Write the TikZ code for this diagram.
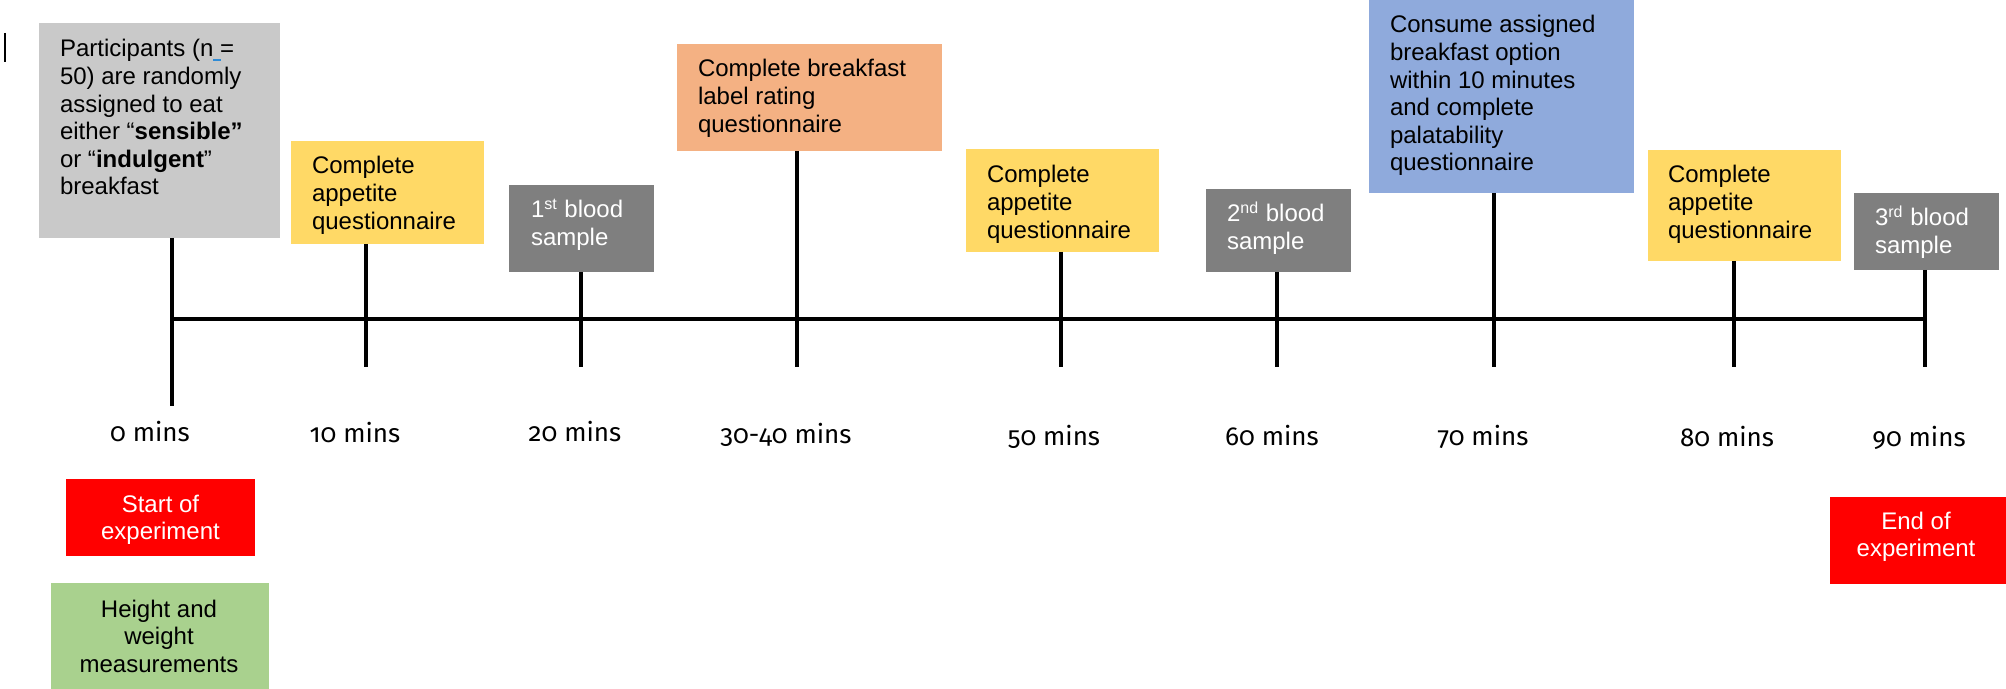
\documentclass[tikz,border=0pt]{standalone}
\usepackage{fontspec}
\setmainfont{Liberation Sans}
\newfontfamily\lblfont[Numbers=OldStyle]{Fira Sans}
\definecolor{cgray}{HTML}{C9C9C9}
\definecolor{cyel}{HTML}{FFD966}
\definecolor{corg}{HTML}{F4B183}
\definecolor{cblue}{HTML}{8FAADC}
\definecolor{cdark}{HTML}{7F7F7F}
\definecolor{cred}{HTML}{FF0000}
\definecolor{cgreen}{HTML}{A9D18E}
\definecolor{cul}{HTML}{2E8BD6}
\begin{document}
\begin{tikzpicture}[x=0.5pt,y=-0.5pt,
  box/.style={rectangle, draw=none, inner sep=0pt, outer sep=0pt, anchor=north west},
  txt/.style={inner sep=0pt, outer sep=0pt, font=\fontsize{12pt}{13.8pt}\selectfont},
  ltxt/.style={txt, anchor=base west},
  ctxt/.style={txt, anchor=base},
  tl/.style={line width=1.7pt, black},
  lbl/.style={inner sep=0pt, outer sep=0pt, anchor=base, font=\lblfont\fontsize{13pt}{15pt}\selectfont}]
\useasboundingbox (0,0) rectangle (2006,689);
\fill[white] (0,0) rectangle (2006,689);

% boxes
\node[box, fill=cgray, minimum width=120.5pt, minimum height=107.5pt] (g0) at (39,23) {};
\node[box, fill=cyel,  minimum width=96.5pt,  minimum height=51.5pt]  (y1) at (291,141) {};
\node[box, fill=cdark, minimum width=72.5pt,  minimum height=43.5pt]  (b1) at (509,185) {};
\node[box, fill=corg,  minimum width=132.5pt, minimum height=53.5pt]  (o1) at (677,44) {};
\node[box, fill=cyel,  minimum width=96.5pt,  minimum height=51.5pt]  (y2) at (966,149) {};
\node[box, fill=cdark, minimum width=72.5pt,  minimum height=41.5pt]  (b2) at (1206,189) {};
\node[box, fill=cblue, minimum width=132.5pt, minimum height=96.5pt]  (bl) at (1369,0) {};
\node[box, fill=cyel,  minimum width=96.5pt,  minimum height=55.5pt]  (y3) at (1648,150) {};
\node[box, fill=cdark, minimum width=72.5pt,  minimum height=38.5pt]  (b3) at (1854,193) {};
\node[box, fill=cred,  minimum width=94.5pt,  minimum height=38.5pt]  (st) at (66,479) {};
\node[box, fill=cgreen,minimum width=109pt,   minimum height=53pt]    (hw) at (51,583) {};
\node[box, fill=cred,  minimum width=88pt,    minimum height=43.5pt]  (en) at (1830,497) {};

% box texts
\node[ltxt] (g0t) at (60,57) {\begin{tabular}[t]{@{}l@{}}Participants (n = \\50) are randomly\\assigned to eat\\either “\textbf{sensible”}\\or “\textbf{indulgent}”\\breakfast\end{tabular}};
\node[ltxt] (y1t) at (312,174) {\begin{tabular}[t]{@{}l@{}}Complete\\appetite\\questionnaire\end{tabular}};
\node[ltxt, text=white] (b1t) at (531,218) {\begin{tabular}[t]{@{}l@{}}1\textsuperscript{st} blood\\sample\end{tabular}};
\node[ltxt] (o1t) at (698,77) {\begin{tabular}[t]{@{}l@{}}Complete breakfast\\label rating\\questionnaire\end{tabular}};
\node[ltxt] (y2t) at (987,183) {\begin{tabular}[t]{@{}l@{}}Complete\\appetite\\questionnaire\end{tabular}};
\node[ltxt, text=white] (b2t) at (1227,222) {\begin{tabular}[t]{@{}l@{}}2\textsuperscript{nd} blood\\sample\end{tabular}};
\node[ltxt] (blt) at (1390,33) {\begin{tabular}[t]{@{}l@{}}Consume assigned\\breakfast option\\within 10 minutes\\and complete\\palatability\\questionnaire\end{tabular}};
\node[ltxt] (y3t) at (1668,183) {\begin{tabular}[t]{@{}l@{}}Complete\\appetite\\questionnaire\end{tabular}};
\node[ltxt, text=white] (b3t) at (1875,226) {\begin{tabular}[t]{@{}l@{}}3\textsuperscript{rd} blood\\sample\end{tabular}};
\node[ctxt, text=white] (stt) at (160.5,512) {\begin{tabular}[t]{@{}c@{}}Start of\\experiment\end{tabular}};
\node[ctxt] (hwt) at (159,617) {\begin{tabular}[t]{@{}c@{}}Height and\\weight\\measurements\end{tabular}};
\node[ctxt, text=white] (ent) at (1916,529) {\begin{tabular}[t]{@{}c@{}}End of\\experiment\end{tabular}};

% small marks
\draw[cul, line width=1.2pt] (213,60) -- (221,60);
\draw[black, line width=1pt] (5,33) -- (5,62);

% timeline coordinates
\coordinate (t0) at (172,319);
\coordinate (t10) at (366,319);
\coordinate (t20) at (581,319);
\coordinate (t30) at (797,319);
\coordinate (t50) at (1061,319);
\coordinate (t60) at (1277,319);
\coordinate (t70) at (1494,319);
\coordinate (t80) at (1734,319);
\coordinate (t90) at (1925,319);
\coordinate (e0) at (172,406);
\coordinate (e10) at (366,367);
\coordinate (e20) at (581,367);
\coordinate (e30) at (797,367);
\coordinate (e50) at (1061,367);
\coordinate (e60) at (1277,367);
\coordinate (e70) at (1494,367);
\coordinate (e80) at (1734,367);
\coordinate (e90) at (1925,367);

\draw[tl] (t0) -- (t90);
\draw[tl] (g0.south -| t0) -- (e0);
\draw[tl] (y1.south -| t10) -- (e10);
\draw[tl] (b1.south -| t20) -- (e20);
\draw[tl] (o1.south -| t30) -- (e30);
\draw[tl] (y2.south -| t50) -- (e50);
\draw[tl] (b2.south -| t60) -- (e60);
\draw[tl] (bl.south -| t70) -- (e70);
\draw[tl] (y3.south -| t80) -- (e80);
\draw[tl] (b3.south -| t90) -- (e90);

% time labels
\node[lbl] (l0) at (150,441) {0 mins};
\node[lbl] (l10) at (355,442) {10 mins};
\node[lbl] (l20) at (575,441) {20 mins};
\node[lbl] (l30) at (786,443) {30-40 mins};
\node[lbl] (l50) at (1054,445) {50 mins};
\node[lbl] (l60) at (1272,445) {60 mins};
\node[lbl] (l70) at (1483,445) {70 mins};
\node[lbl] (l80) at (1727,446) {80 mins};
\node[lbl] (l90) at (1919,446) {90 mins};
\end{tikzpicture}
\end{document}
